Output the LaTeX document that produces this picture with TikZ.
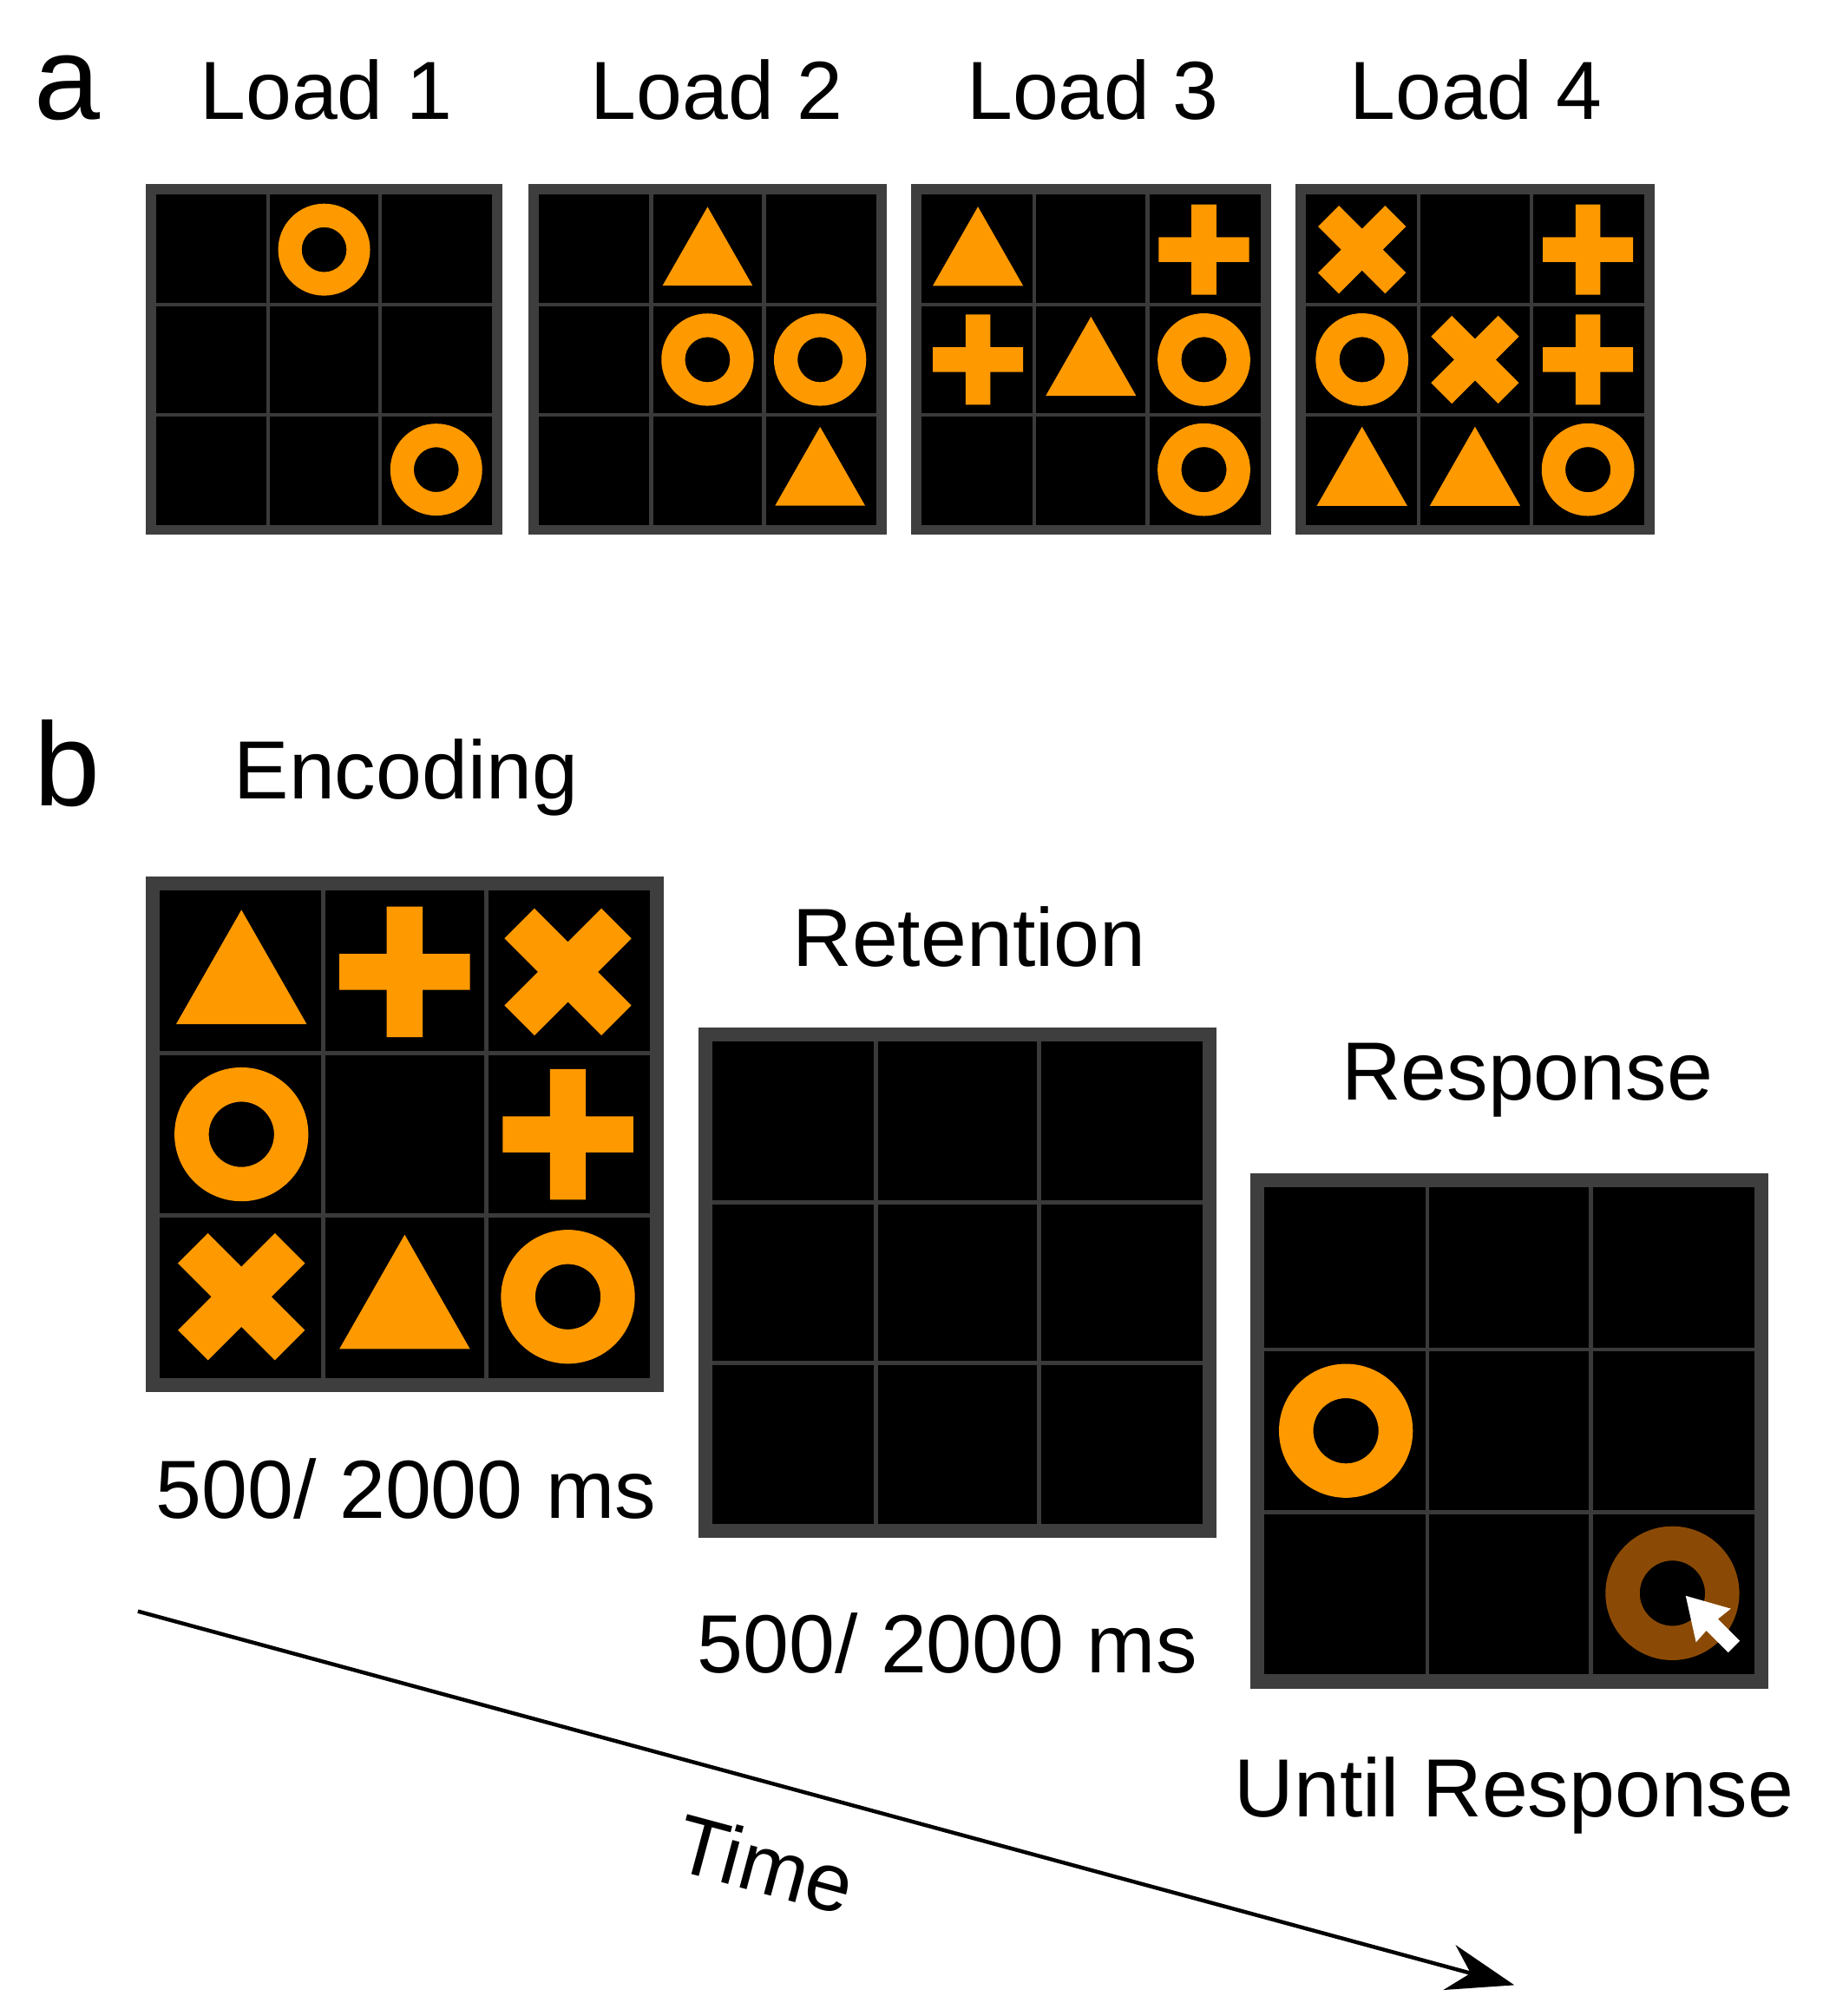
\documentclass[tikz,border=0pt]{standalone}
\usepackage{fontspec}
\setmainfont{Liberation Sans}
\usetikzlibrary{arrows.meta}
\definecolor{org}{HTML}{FF9900}
\definecolor{brn}{HTML}{8A4A05}
\definecolor{frm}{HTML}{3E3E3E}
\definecolor{gl}{HTML}{3A3A3A}
\tikzset{
 lbl/.style={font=\fontsize{32}{36}\selectfont, inner sep=0pt},
 big/.style={font=\fontsize{46}{50}\selectfont, inner sep=0pt},
 pics/ring/.style={code={\fill[#1,even odd rule] (0,0) circle (41) (0,0) circle (20);}},
 pics/ring/.default=org,
 pics/tri/.style={code={\fill[org] (-40,32) -- (40,32) -- (0,-38) -- cycle;}},
 pics/plus/.style={code={\fill[org] (-40,-11) rectangle (40,11) (-11,-40) rectangle (11,40);}},
 pics/cross/.style={code={\fill[org,rotate=45] (-42,-13) rectangle (42,13) (-13,-42) rectangle (13,42);}},
}
% grid: x0 y0 x1 y1 inset
\newcommand\gbox[5]{%
 \fill[frm] (#1,#2) rectangle (#3,#4);
 \fill[black] (#1+#5,#2+#5) rectangle (#3-#5,#4-#5);
 \pgfmathsetmacro\gcw{(#3-#1-2*#5)/3}\pgfmathsetmacro\gch{(#4-#2-2*#5)/3}
 \foreach \i in {1,2}{
  \draw[gl,line width=1.5pt] (#1+#5+\i*\gcw,#2+#5) -- ++(0,3*\gch);
  \draw[gl,line width=1.5pt] (#1+#5,#2+#5+\i*\gch) -- ++(3*\gcw,0);}
}
% symbol: x0 y0 x1 y1 inset col row pic
\newcommand\gsym[8]{%
 \pgfmathsetmacro\gcw{(#3-#1-2*#5)/3}\pgfmathsetmacro\gch{(#4-#2-2*#5)/3}
 \pgfmathsetmacro\gsc{\gcw/100}
 \pic[scale=\gsc] at (#1+#5+#6*\gcw-0.5*\gcw,#2+#5+#7*\gch-0.5*\gch) {#8};
}
\begin{document}
\begin{tikzpicture}[x=0.5pt,y=-0.5pt]
\useasboundingbox (0,0) rectangle (1414,1564);
\fill[white] (0,0) rectangle (1414,1564);
\node[big] (a) at (52,68) {a};
\node[lbl] (l1) at (253,70) {Load 1};
\node[lbl] (l2) at (556,70) {Load 2};
\node[lbl] (l3) at (848,70) {Load 3};
\node[lbl] (l4) at (1145,70) {Load 4};
% Load 1
\gbox{113}{143}{390}{415}{8}
\gsym{113}{143}{390}{415}{8}{2}{1}{ring}
\gsym{113}{143}{390}{415}{8}{3}{3}{ring}
% Load 2
\gbox{410}{143}{688}{415}{8}
\gsym{410}{143}{688}{415}{8}{2}{1}{tri}
\gsym{410}{143}{688}{415}{8}{2}{2}{ring}
\gsym{410}{143}{688}{415}{8}{3}{2}{ring}
\gsym{410}{143}{688}{415}{8}{3}{3}{tri}
% Load 3
\gbox{707}{143}{986}{415}{8}
\gsym{707}{143}{986}{415}{8}{1}{1}{tri}
\gsym{707}{143}{986}{415}{8}{3}{1}{plus}
\gsym{707}{143}{986}{415}{8}{1}{2}{plus}
\gsym{707}{143}{986}{415}{8}{2}{2}{tri}
\gsym{707}{143}{986}{415}{8}{3}{2}{ring}
\gsym{707}{143}{986}{415}{8}{3}{3}{ring}
% Load 4
\gbox{1005}{143}{1284}{415}{8}
\gsym{1005}{143}{1284}{415}{8}{1}{1}{cross}
\gsym{1005}{143}{1284}{415}{8}{3}{1}{plus}
\gsym{1005}{143}{1284}{415}{8}{1}{2}{ring}
\gsym{1005}{143}{1284}{415}{8}{2}{2}{cross}
\gsym{1005}{143}{1284}{415}{8}{3}{2}{plus}
\gsym{1005}{143}{1284}{415}{8}{1}{3}{tri}
\gsym{1005}{143}{1284}{415}{8}{2}{3}{tri}
\gsym{1005}{143}{1284}{415}{8}{3}{3}{ring}
% panel b
\node[big] (b) at (52,592) {b};
\node[lbl] (enc) at (315,603) {Encoding};
\node[lbl] (ret) at (752,727) {Retention};
\node[lbl] (res) at (1185,838) {Response};
\node[lbl] (t1) at (315,1155) {500/ 2000 ms};
\node[lbl] (t2) at (735,1275) {500/ 2000 ms};
\node[lbl] (t3) at (1175,1393) {Until Response};
% Encoding
\gbox{113}{680}{515}{1080}{11}
\gsym{113}{680}{515}{1080}{11}{1}{1}{tri}
\gsym{113}{680}{515}{1080}{11}{2}{1}{plus}
\gsym{113}{680}{515}{1080}{11}{3}{1}{cross}
\gsym{113}{680}{515}{1080}{11}{1}{2}{ring}
\gsym{113}{680}{515}{1080}{11}{3}{2}{plus}
\gsym{113}{680}{515}{1080}{11}{1}{3}{cross}
\gsym{113}{680}{515}{1080}{11}{2}{3}{tri}
\gsym{113}{680}{515}{1080}{11}{3}{3}{ring}
% Retention
\gbox{542}{797}{944}{1193}{11}
% Response
\gbox{970}{910}{1372}{1310}{11}
\gsym{970}{910}{1372}{1310}{11}{1}{2}{ring}
\gsym{970}{910}{1372}{1310}{11}{3}{3}{ring=brn}
\fill[white] (1308,1238) -- (1343,1248) -- (1333,1256) -- (1350,1273) -- (1341,1282) -- (1324,1265) -- (1316,1274) -- cycle;
% time arrow
\coordinate (ts) at (107,1250);
\coordinate (te) at (1175,1540);
\draw[line width=1.5pt,-{Stealth[length=26pt,width=18pt]}] (ts) -- (te);
\node[lbl,rotate=-15] (time) at (594,1446) {Time};
\end{tikzpicture}
\end{document}
